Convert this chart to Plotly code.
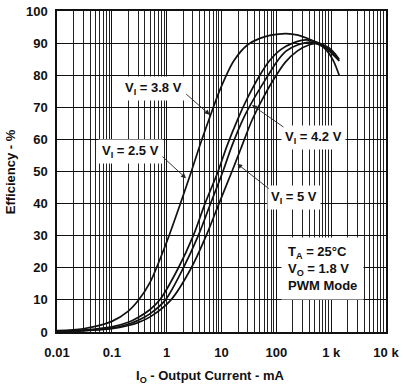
import math
import plotly.graph_objects as go

# Output current (mA) and efficiency (%) per input voltage
io_25 = [0.01, 0.03, 0.1, 0.2, 0.31, 0.5, 1.0, 1.78, 2.82, 4.1, 6.0, 9.4, 16.8, 30, 50, 80, 150, 250, 365, 730, 1000, 1400]
eff_25 = [0.4, 1.0, 3.3, 6.5, 10, 15.5, 28, 40, 50, 58.5, 66.5, 75.5, 84.5, 89.5, 91.5, 92.5, 93, 92.5, 91.5, 89, 87, 84.5]

io_38 = [0.01, 0.03, 0.1, 0.2, 0.3, 0.5, 0.75, 1.64, 3.06, 5.0, 8.65, 12.6, 20, 30, 50, 75, 120, 200, 350, 600, 1000, 1400]
eff_38 = [0.2, 0.6, 1.6, 3.0, 4.5, 7, 10, 20, 30, 40, 50, 58, 66.5, 73, 80, 84.5, 88, 90, 91, 90, 88, 85]

io_42 = [0.01, 0.03, 0.1, 0.2, 0.3, 0.5, 0.95, 2.02, 3.77, 6.0, 10.6, 15.5, 25, 40, 60, 100, 150, 250, 450, 700, 1000, 1400]
eff_42 = [0.15, 0.45, 1.2, 2.4, 3.6, 5.7, 10, 20, 30, 39, 50, 58, 66.5, 73, 78, 84, 87.5, 89.5, 90.3, 89, 87.5, 84.5]

io_50 = [0.01, 0.03, 0.1, 0.2, 0.3, 0.5, 1.2, 2.82, 5.26, 9.0, 15.5, 22.4, 35, 53.7, 88, 145, 240, 400, 550, 800, 1100, 1400]
eff_50 = [0.1, 0.35, 1.0, 2.0, 2.9, 4.7, 10, 20, 30, 40, 50, 57, 65.5, 72, 78.5, 84, 87.5, 89.5, 89.8, 88, 84.5, 80]

x_tickvals = [0.01, 0.1, 1, 10, 100, 1000, 10000]
x_ticktext = ["0.01", "0.1", "1", "10", "100", "1 k", "10 k"]
y_tickvals = [0, 10, 20, 30, 40, 50, 60, 70, 80, 90, 100]

minor_x = [k * 10.0 ** e for e in range(-2, 4) for k in range(2, 10)]

FONT = "Liberation Sans, Arial, sans-serif"
TXT = dict(family=FONT, size=13, color="#111", weight="bold")

fig = go.Figure()
for xs, ys in [(io_25, eff_25), (io_38, eff_38), (io_42, eff_42), (io_50, eff_50)]:
    fig.add_trace(go.Scatter(x=xs, y=ys, mode="lines",
                             line=dict(color="#111", width=1.7, shape="spline", smoothing=0.8),
                             hoverinfo="skip", showlegend=False))

fig.update_layout(
    width=403, height=390,
    margin=dict(l=57, r=12, t=4, b=58),
    paper_bgcolor="white", plot_bgcolor="white",
    font=TXT,
    showlegend=False,
)
fig.update_xaxes(
    type="log", range=[-2.0001, 4.0001],
    tickmode="array", tickvals=x_tickvals, ticktext=x_ticktext,
    showgrid=True, gridcolor="#111", gridwidth=1.1,
    minor=dict(tickmode="array", tickvals=minor_x, showgrid=True, gridcolor="#222", gridwidth=0.9),
    ticks="outside", ticklen=8, tickcolor="rgba(0,0,0,0)",
    ticklabeloverflow="allow",
    showline=True, linecolor="#111", linewidth=1.5, mirror=True,
    tickfont=TXT, zeroline=False,
)
fig.update_yaxes(
    range=[-0.02, 100.02],
    tickmode="array", tickvals=y_tickvals,
    showgrid=True, gridcolor="#111", gridwidth=1.1,
    ticks="outside", ticklen=5, tickcolor="rgba(0,0,0,0)",
    ticklabeloverflow="allow",
    showline=True, linecolor="#111", linewidth=1.5, mirror=True,
    tickfont=TXT, zeroline=False,
)

# Curve labels (text boxes), centred at paper positions
labels = [
    ("V<sub>I</sub> = 3.8 V", 0.293, 0.758),
    ("V<sub>I</sub> = 2.5 V", 0.2246, 0.561),
    ("V<sub>I</sub> = 4.2 V", 0.781, 0.607),
    ("V<sub>I</sub> = 5 V", 0.7216, 0.418),
]
for txt, px, py in labels:
    fig.add_annotation(text=txt, xref="paper", yref="paper", x=px, y=py,
                       xanchor="center", yanchor="middle",
                       showarrow=False, bgcolor="white", borderpad=3, font=TXT)

# Arrows (tip in data coords, tail offset in px)
arrows = [
    (6.08, 67.7, -25, -22),
    (2.25, 47.9, -25, -23),
    (36.0, 70.7, 33, 23),
    (19.4, 52.4, 33, 26),
]
for tx, ty, dx, dy in arrows:
    fig.add_annotation(x=math.log10(tx), y=ty, xref="x", yref="y", text="",
                       showarrow=True, ax=dx, ay=dy, arrowhead=2, arrowsize=1.1,
                       arrowwidth=0.9, arrowcolor="#222", standoff=0)

fig.add_annotation(
    text="T<sub>A</sub> = 25°C<br>V<sub>O</sub> = 1.8 V<br>PWM Mode",
    xref="paper", yref="paper", x=0.680, y=0.198, xanchor="left", yanchor="middle",
    align="left", showarrow=False, bgcolor="white", borderpad=6, font=TXT)

fig.add_annotation(text="I<sub>O</sub> - Output Current - mA", xref="paper", yref="paper",
                   x=0.467, y=-0.140, xanchor="center", yanchor="middle",
                   showarrow=False, font=TXT)
fig.add_annotation(text="Efficiency - %", xref="paper", yref="paper",
                   x=-0.1407, y=0.5, xanchor="center", yanchor="middle",
                   textangle=-90, showarrow=False, font=TXT)

fig.write_html("out.html", config={"displayModeBar": False},
               post_script="document.body.style.margin='0';document.body.style.padding='0';")
